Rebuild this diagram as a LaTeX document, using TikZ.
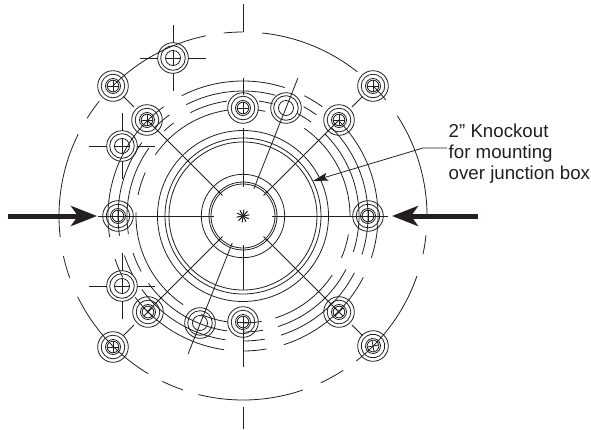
\documentclass[tikz,border=0pt]{standalone}
\usepackage{fontspec}
\setmainfont{Liberation Sans}
\usetikzlibrary{arrows.meta}
\definecolor{inkblack}{HTML}{231F20}
\tikzset{
	thinline/.style = {draw = inkblack, line width = 0.8pt},
	pressarrow/.style = {draw = inkblack, fill = inkblack, line width = 5pt, -{Stealth[length = 26pt, width = 20pt, inset = 7pt]}},
	leaderline/.style = {thinline, -{Stealth[length = 15pt, width = 8pt, inset = 3pt]}},
	labeltext/.style = {text = inkblack, inner sep = 0pt, font = \fontsize{18.7}{21}\selectfont}
}

\begin{document}
\begin{tikzpicture}[x = 1pt, y = 1pt]
		\useasboundingbox (-243,-213) rectangle (348,216);
		
		\begin{scope}[thinline]
			\foreach \r in {32, 34, 41.7, 74, 78, 85.5}
				\draw (0,0) circle [radius = \r];
			
			% mounting slots and the outer broken circle
			\foreach \r/\a/\b in {
				184/-1/33, 184/-12/-6, 184/-52/-19, 184/-65/-57, 184/-104/-71, 184/-116/-109,
				184/-154/-121, 184/192.6/199.7, 184/153.6/186.5, 184/141.4/147.9, 184/101.7/135,
				184/90/96, 184/39/45, 184/51.6/84,
				135/72/117, 135/126/189, 135/198.6/207, 135/217/262, 135/270/280, 135/287.6/333,
				135/-18/45, 135/54/63,
				125/75/117, 125/126/135, 125/144/189, 125/198.4/208, 125/216/262, 125/270/280,
				125/287.7/333, 125/-18/45, 125/54/61,
				116/75/82, 116/98/117, 116/126.6/133, 116/144/189, 116/198.6/208.6, 116/215.5/262,
				116/270/280, 116/287.5/332.6, 116/-18/45, 116/54/62,
				107/78/82, 107/98/145, 107/156/168.6, 107/178/236, 107/247/262, 107/270/280,
				107/287.6/326.5, 107/-23/-10, 107/0/55}
				\draw (\a:\r) arc [start angle = \a, end angle = \b, radius = \r];
			
			% spokes
			\foreach \a/\from/\to in {
				45/29/136, 135/29/136, 225/29/136, 315/29/136,
				68.3/29/148.6, 248.3/29/148.6,
				90/29/88, 90/121/138, 270/29/74, 270/106/151,
				0/29/145, 180/29/145,
				45/154/169, 135/154/169, 225/154/169, 315/154/169}
				\draw (\a:\from) -- (\a:\to);
			
			\draw (0,184) -- (0,212);
			\draw (0,-191) -- (0,-213);
			
			\foreach \a in {0, 36, 72, 108, 144}
				\draw [line width = 1pt] (\a+10:-6.5) -- (\a+10:6.5);
			
			% bolts with a double hole
			\foreach \x/\y/\rot in {
				0/108/0, 125/0/0, -125/0/0, 0/-106/0,
				-96/96/0, 96/96/0, -95/-96/45, 96/-96/45,
				-130/130/0, 130/130/0, -130/-131/0, 130/-130/10} {
				\begin{scope}[shift = {(\x,\y)}, rotate = \rot]
					\draw (0,0) circle [radius = 15.3];
					\draw (0,0) circle [radius = 11.8];
					\draw (0,0) circle [radius = 7.5];
					\draw (0,0) circle [radius = 5.8];
					\draw (-5.8,0) -- (5.8,0);
					\draw (0,-5.8) -- (0,5.8);
				\end{scope}
			}
			
			% bolts with a single hole
			\foreach \x/\y in {43/108, -43/-107, -70/158, -121/70, -121/-70} {
				\begin{scope}[shift = {(\x,\y)}]
					\draw (0,0) circle [radius = 15.3];
					\draw (0,0) circle [radius = 12.3];
					\draw (0,0) circle [radius = 7.5];
				\end{scope}
			}
			
			% cross marks on three of them
			\foreach \x/\y in {-70/158, -121/70, -121/-70} {
				\begin{scope}[shift = {(\x,\y)}]
					\draw (-7.5,0) -- (7.5,0);
					\draw (0,-7.5) -- (0,7.5);
					\draw (-33,0) -- (-15.3,0);
					\draw (15.3,0) -- (33,0);
					\draw (0,-33) -- (0,-15.3);
					\draw (0,15.3) -- (0,33);
				\end{scope}
			}
		\end{scope}
		
		\begin{scope}
			\coordinate (lefttail) at (-235,0);
			\coordinate (lefttip) at (-146,0);
			\coordinate (righttail) at (235,0);
			\coordinate (righttip) at (149,0);
			\draw [pressarrow] (lefttail) -- (lefttip);
			\draw [pressarrow] (righttail) -- (righttip);
		\end{scope}
		
		\begin{scope}
			\node [labeltext, anchor = base west] (knockoutlabel) at (205.5,79) {2” Knockout};
			\node [labeltext, anchor = base west] (mountinglabel) at (205.5,58) {for mounting};
			\node [labeltext, anchor = base west] (junctionlabel) at (205.5,37) {over junction box};
			\coordinate (leaderstart) at (204,68);
			\coordinate (leaderbend) at (180,68);
			\coordinate (leadertip) at (70,35);
			\draw [leaderline] (leaderstart) -- (leaderbend) -- (leadertip);
		\end{scope}
	\end{tikzpicture}
\end{document}
